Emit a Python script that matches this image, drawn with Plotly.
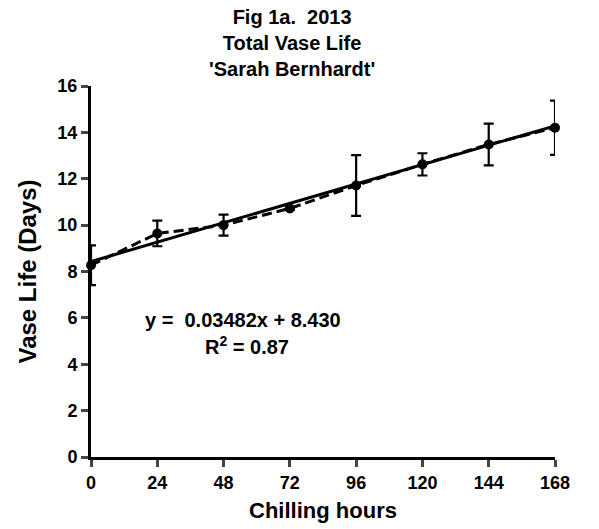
import plotly.graph_objects as go

hours = [0, 24, 48, 72, 96, 120, 144, 168]
vase_life = [8.27, 9.64, 10.0, 10.72, 11.71, 12.62, 13.48, 14.2]
sem = [0.86, 0.55, 0.45, 0.05, 1.31, 0.48, 0.9, 1.17]
slope = 0.03482
intercept = 8.430
fit_x = [0, 168]
fit_y = [intercept + slope * v for v in fit_x]
x_ticks = [0, 24, 48, 72, 96, 120, 144, 168]
y_ticks = [0, 2, 4, 6, 8, 10, 12, 14, 16]

FONT = "Liberation Sans, Arial, sans-serif"
W, H = 599, 529
L, R, T, B = 91, 44, 86, 72
pw, ph = W - L - R, H - T - B


def px(xp):
    return (xp - L) / pw


def py(yp):
    return 1 - (yp - T) / ph


fig = go.Figure()
fig.add_trace(go.Scatter(
    x=fit_x, y=fit_y, mode="lines",
    line=dict(color="black", width=3), cliponaxis=False, showlegend=False))
fig.add_trace(go.Scatter(
    x=hours, y=vase_life, mode="lines+markers",
    line=dict(color="black", width=3, dash="10px,5px"),
    marker=dict(color="black", size=10),
    error_y=dict(type="data", array=sem, visible=True, color="black",
                 thickness=2.2, width=5),
    cliponaxis=False, showlegend=False))

fig.add_annotation(x=px(292), y=py(43), xref="paper", yref="paper",
                   text="Fig 1a.  2013<br>Total Vase Life<br>'Sarah Bernhardt'",
                   showarrow=False, xanchor="center", yanchor="middle",
                   font=dict(family=FONT, size=20, color="black", weight="bold"))
fig.add_annotation(x=px(143), y=py(320), xref="paper", yref="paper",
                   text="y =  0.03482x + 8.430",
                   showarrow=False, xanchor="left", yanchor="middle",
                   font=dict(family=FONT, size=20, color="black", weight="bold"))
fig.add_annotation(x=px(247), y=py(345), xref="paper", yref="paper",
                   text="R<sup>2</sup> = 0.87",
                   showarrow=False, xanchor="center", yanchor="middle",
                   font=dict(family=FONT, size=20, color="black", weight="bold"))

fig.update_layout(
    width=W, height=H,
    margin=dict(l=L, r=R, t=T, b=B),
    plot_bgcolor="white", paper_bgcolor="white",
    xaxis=dict(range=[0, 168], tickvals=x_ticks, ticks="outside", ticklen=7, tickwidth=3,
               showline=True, linewidth=3, linecolor="black", showgrid=False, zeroline=False,
               automargin=False,
               tickfont=dict(family=FONT, size=18, color="black", weight="bold"),
               title=dict(text="Chilling hours", standoff=12,
                          font=dict(family=FONT, size=22, color="black", weight="bold"))),
    yaxis=dict(range=[0, 16], tickvals=y_ticks, ticks="outside", ticklen=7, tickwidth=3,
               showline=True, linewidth=3, linecolor="black", showgrid=False, zeroline=False,
               automargin=False,
               tickfont=dict(family=FONT, size=18, color="black", weight="bold"),
               title=dict(text="Vase Life (Days)", standoff=14,
                          font=dict(family=FONT, size=24, color="black", weight="bold"))),
)

fig.write_html("out.html", config={"displayModeBar": False},
               post_script="document.body.style.margin='0';document.body.style.overflow='hidden';")
